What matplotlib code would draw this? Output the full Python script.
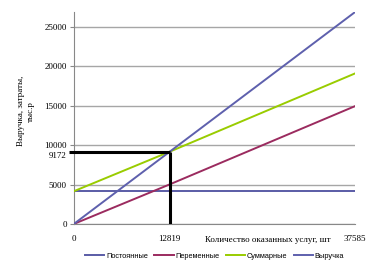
import matplotlib
matplotlib.use('Agg')
import matplotlib.pyplot as plt

# количество услуг: начало, точка безубыточности, максимум
quantity = [0, 12819, 37585]
fixed_costs = [4150, 4150, 4150]
variable_costs = [0, 5022, 14950]
total_costs = [f + v for f, v in zip(fixed_costs, variable_costs)]
revenue = [0, 9172, 26892]

breakeven_q = 12819
breakeven_rev = 9172

series_names = ['Постоянные', 'Переменные', 'Суммарные', 'Выручка']
series_colors = ['#5a5ca6', '#9b2b5f', '#99cc00', '#5e60ad']

y_ticks = [0, 5000, 10000, 15000, 20000, 25000]

SERIF = 'Liberation Serif'
SANS = 'Liberation Sans'

fig = plt.figure(figsize=(3.75, 2.65), dpi=100)
ax = fig.add_axes([0.197, 0.155, 0.75, 0.80])

for values, name, color in zip([fixed_costs, variable_costs, total_costs, revenue],
                               series_names, series_colors):
    ax.plot(quantity, values, color=color, lw=1.4, label=name, zorder=3)

# линии точки безубыточности
ax.plot([-700, breakeven_q], [breakeven_rev, breakeven_rev], color='black', lw=2.2,
        clip_on=False, zorder=4, solid_capstyle='butt')
ax.plot([breakeven_q, breakeven_q], [0, breakeven_rev], color='black', lw=2.2,
        zorder=4, solid_capstyle='butt')

ax.set_xlim(0, quantity[-1])
ax.set_ylim(0, 26900)

ax.set_yticks(y_ticks)
ax.set_yticklabels([str(t) for t in y_ticks], fontfamily=SERIF, fontsize=6.5)
ax.set_yticks([breakeven_rev], minor=True)
ax.set_yticklabels([str(breakeven_rev)], minor=True, fontfamily=SERIF, fontsize=6.5,
                   va='top')
ax.tick_params(axis='y', which='major', length=3, width=0.8, color='#888888', pad=2)
ax.tick_params(axis='y', which='minor', length=0, pad=5)

ax.set_xticks(quantity)
ax.set_xticklabels([str(q) for q in quantity], fontfamily=SERIF, fontsize=6.5)
ax.tick_params(axis='x', length=0, pad=8)

ax.yaxis.grid(True, which='major', color='#a6a6a6', lw=1.0, zorder=0)
ax.set_axisbelow(True)
for side in ['top', 'right']:
    ax.spines[side].set_visible(False)
for side in ['left', 'bottom']:
    ax.spines[side].set_color('#888888')
    ax.spines[side].set_linewidth(0.8)

ax.text(0.69, -0.055, 'Количество оказанных услуг, шт', transform=ax.transAxes,
        ha='center', va='top', fontfamily=SERIF, fontsize=6.5)
fig.text(0.068, 0.58, 'Выручка, затраты,\nтыс.р', rotation=90, ha='center', va='center',
         fontfamily=SERIF, fontsize=6.5, linespacing=1.3)

ax.legend(loc='upper center', bbox_to_anchor=(0.5, -0.105), ncol=4, frameon=False,
          prop={'family': SANS, 'size': 5.3}, handlelength=2.6, handletextpad=0.2,
          columnspacing=0.9)

fig.savefig('out.png', dpi=100)
